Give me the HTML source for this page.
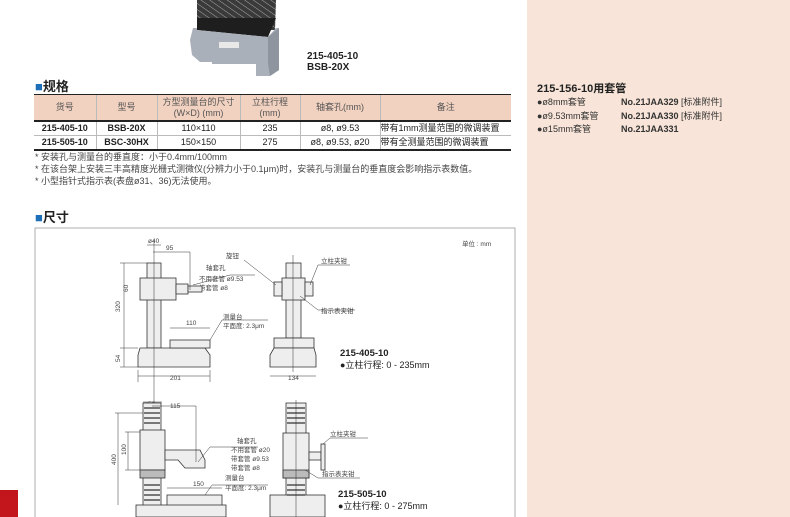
<!DOCTYPE html>
<html><head><meta charset="utf-8"><style>
html,body{margin:0;padding:0;width:790px;height:517px;overflow:hidden;background:#fff;font-family:"Liberation Sans","Noto Sans CJK SC",sans-serif;}
.abs{position:absolute;white-space:nowrap}
#right{position:absolute;left:527px;top:0;width:263px;height:517px;background:#f8e4d8}
table{border-collapse:collapse;position:absolute;left:34px;top:95px;font-size:9px;color:#222}
td{border-left:1px solid #bbb;text-align:center;padding:0;height:13px;line-height:13px}
td:first-child{border-left:none}
tr.h td{background:#f1d1bf;height:25px;line-height:11px;color:#555}
</style></head><body>
<div id="right">
 <div class="abs" style="left:10px;top:80px;font-size:11px;font-weight:bold;color:#222">215-156-10用套管</div>
 <div class="abs" style="left:10px;top:96px;font-size:9px;line-height:13.5px;color:#333">●ø8mm套管<br>●ø9.53mm套管<br>●ø15mm套管</div>
 <div class="abs" style="left:94px;top:96px;font-size:9px;line-height:13.5px;color:#333"><b>No.21JAA329</b> [标准附件]<br><b>No.21JAA330</b> [标准附件]<br><b>No.21JAA331</b></div>
</div>
<svg class="abs" style="left:0;top:0" width="527" height="80">
 <defs><pattern id="st" width="5" height="5" patternUnits="userSpaceOnUse" patternTransform="rotate(-55)"><rect width="5" height="5" fill="#3a3a3a"/><line x1="0" y1="0" x2="0" y2="5" stroke="#aaa" stroke-width="1"/></pattern></defs>
 <polygon points="197,0 276,0 275,30 197,30" fill="url(#st)"/>
 <polygon points="197,18 276,18 268,37 197,30" fill="#1e1e1e"/>
 <polygon points="193,28 197,28 197,30 268,37 276,28 279,28 279,70 270,76 256,76 256,64 212,64 212,62 200,62 192,55 190,40" fill="#aab0b9"/>
 <polygon points="268,37 279,28 279,70 270,76 268,64" fill="#8f959e"/>
 <rect x="219" y="42" width="20" height="6" fill="#e8e8e8"/>
</svg>
<div class="abs" style="left:307px;top:51px;font-size:10px;font-weight:bold;line-height:11px;color:#222">215-405-10<br>BSB-20X</div>
<div class="abs" style="left:35px;top:76px;font-size:13px;font-weight:bold;color:#222"><span style="color:#1d6fb8">■</span>规格</div>
<div class="abs" style="left:34px;top:94px;width:477px;height:2px;background:#222"></div>
<table style="width:477px">
<colgroup><col style="width:62px"><col style="width:61px"><col style="width:83px"><col style="width:60px"><col style="width:80px"><col style="width:131px"></colgroup>
<tr class="h"><td>货号</td><td>型号</td><td>方型测量台的尺寸<br>(W×D) (mm)</td><td>立柱行程<br>(mm)</td><td>轴套孔(mm)</td><td>备注</td></tr>
<tr style="border-top:2px solid #222"><td><b>215-405-10</b></td><td><b>BSB-20X</b></td><td>110×110</td><td>235</td><td>ø8, ø9.53</td><td style="text-align:left">带有1mm测量范围的微调装置</td></tr>
<tr style="border-top:1px solid #bbb;border-bottom:2px solid #222"><td><b>215-505-10</b></td><td><b>BSC-30HX</b></td><td>150×150</td><td>275</td><td>ø8, ø9.53, ø20</td><td style="text-align:left">带有全测量范围的微调装置</td></tr>
</table>
<div class="abs" style="left:35px;top:151px;font-size:9px;line-height:12px;color:#444">* 安装孔与测量台的垂直度：小于0.4mm/100mm<br>* 在该台架上安装三丰高精度光栅式测微仪(分辨力小于0.1μm)时，安装孔与测量台的垂直度会影响指示表数值。<br>* 小型指针式指示表(表盘ø31、36)无法使用。</div>
<div class="abs" style="left:35px;top:207px;font-size:13px;font-weight:bold;color:#222"><span style="color:#1d6fb8">■</span>尺寸</div>
<div class="abs" style="left:0;top:490px;width:18px;height:27px;background:#c3161c"></div>
<svg class="abs" style="left:0;top:0" width="527" height="517" font-size="6.5" fill="none" stroke="#333" stroke-width="0.8">
 <rect x="35" y="228" width="480" height="300" stroke="#999"/>
 <g fill="#444" stroke="none" font-family="Liberation Sans,Noto Sans CJK SC,sans-serif">
  <text x="462" y="246">单位 : mm</text>
  <text x="148" y="243">ø40</text><text x="166" y="250">95</text>
  <text x="206" y="270">轴套孔</text><text x="199" y="281">不用套管  ø9.53</text><text x="199" y="290">带套管  ø8</text>
  <text x="226" y="258">旋钮</text><text x="321" y="263">立柱夹钳</text><text x="321" y="313">指示表夹钳</text>
  <text x="223" y="319">测量台</text><text x="223" y="328">平面度: 2.3μm</text>
  <text x="186" y="325">110</text><text x="170" y="380">201</text><text x="288" y="380">134</text>
  <text x="144" y="406">ø50</text><text x="170" y="408">115</text>
  <text x="237" y="443">轴套孔</text><text x="231" y="452">不用套管  ø20</text><text x="231" y="461">带套管  ø9.53</text><text x="231" y="470">带套管  ø8</text>
  <text x="225" y="480">测量台</text><text x="225" y="490">平面度: 2.3μm</text><text x="193" y="486">150</text>
  <text x="330" y="436">立柱夹钳</text><text x="322" y="476">指示表夹钳</text>
  <text x="340" y="356" font-size="9.5" font-weight="bold" fill="#222">215-405-10</text>
  <text x="340" y="368" font-size="9" fill="#222">●立柱行程: 0 - 235mm</text>
  <text x="338" y="497" font-size="9.5" font-weight="bold" fill="#222">215-505-10</text>
  <text x="338" y="509" font-size="9" fill="#222">●立柱行程: 0 - 275mm</text>
  <text transform="translate(120,312) rotate(-90)">320</text><text transform="translate(120,362) rotate(-90)">54</text>
  <text transform="translate(128,292) rotate(-90)">60</text>
  <text transform="translate(116,465) rotate(-90)">400</text><text transform="translate(126,455) rotate(-90)">100</text>
 </g>
 <g fill="#eee">
  <rect x="147" y="263" width="14" height="85"/>
  <rect x="140" y="278" width="36" height="22"/>
  <rect x="176" y="284" width="12" height="10"/>
  <rect x="188" y="286" width="14" height="6"/>
  <path d="M140,348 L205,348 L210,355 L210,367 L138,367 L138,355 Z"/>
  <rect x="170" y="340" width="40" height="8"/>
  <rect x="286" y="263" width="15" height="75"/>
  <rect x="282" y="278" width="23" height="22"/>
  <rect x="274" y="282" width="8" height="14"/><rect x="305" y="282" width="8" height="14"/>
  <rect x="274" y="338" width="40" height="10"/>
  <path d="M274,348 L314,348 L316,355 L316,367 L270,367 L270,355 Z"/>
 </g>
 <g stroke-width="0.5">
  <line x1="120" y1="263" x2="147" y2="263"/><line x1="120" y1="348" x2="138" y2="348"/><line x1="120" y1="367" x2="138" y2="367"/>
  <line x1="124" y1="263" x2="124" y2="348"/><line x1="124" y1="348" x2="124" y2="367"/>
  <line x1="147" y1="245" x2="161" y2="245"/><line x1="153" y1="252" x2="190" y2="252"/><line x1="190" y1="252" x2="190" y2="290"/>
  <line x1="138" y1="370" x2="138" y2="382"/><line x1="210" y1="370" x2="210" y2="382"/><line x1="138" y1="376" x2="210" y2="376"/>
  <line x1="270" y1="376" x2="316" y2="376"/><line x1="170" y1="328" x2="210" y2="328"/>
  <line x1="193" y1="285" x2="230" y2="275"/><line x1="230" y1="275" x2="255" y2="275"/>
  <line x1="210" y1="340" x2="222" y2="320"/><line x1="222" y1="320" x2="268" y2="320"/>
  <line x1="276" y1="285" x2="244" y2="260"/><line x1="310" y1="285" x2="318" y2="265"/><line x1="318" y1="265" x2="350" y2="265"/>
  <line x1="300" y1="296" x2="318" y2="310"/><line x1="318" y1="310" x2="355" y2="310"/>
  <line x1="154" y1="240" x2="154" y2="440"/><line x1="293" y1="255" x2="293" y2="372"/>
 </g>
 <g fill="#eee">
  <rect x="143" y="403" width="18" height="110"/>
  <rect x="140" y="430" width="25" height="40"/>
  <rect x="140" y="470" width="25" height="8" fill="#bbb"/>
  <path d="M165,450 L200,450 L205,460 L205,468 L185,468 L178,460 L165,460 Z"/>
  <rect x="167" y="495" width="55" height="22"/>
  <rect x="136" y="505" width="90" height="12"/>
  <rect x="286" y="403" width="20" height="110"/>
  <rect x="283" y="433" width="26" height="45"/><rect x="283" y="470" width="26" height="8" fill="#bbb"/>
  <rect x="309" y="452" width="12" height="8"/><rect x="321" y="444" width="4" height="26"/>
  <rect x="270" y="495" width="55" height="22"/>
 </g>
 <g stroke-width="1.3">
  <path d="M144,408h16M144,413h16M144,418h16M144,423h16M144,485h16M144,490h16M144,495h16M144,500h16"/>
  <path d="M287,408h18M287,413h18M287,418h18M287,423h18M287,485h18M287,490h18M287,495h18"/>
 </g>
 <g stroke-width="0.5">
  <line x1="115" y1="413" x2="143" y2="413"/><line x1="118" y1="413" x2="118" y2="505"/>
  <line x1="125" y1="432" x2="140" y2="432"/><line x1="125" y1="470" x2="140" y2="470"/><line x1="128" y1="432" x2="128" y2="470"/>
  <line x1="143" y1="402" x2="162" y2="402"/><line x1="152" y1="406" x2="196" y2="406"/><line x1="196" y1="406" x2="196" y2="462"/>
  <line x1="167" y1="488" x2="222" y2="488"/><line x1="198" y1="462" x2="210" y2="447"/><line x1="210" y1="447" x2="258" y2="447"/>
  <line x1="205" y1="495" x2="212" y2="485"/><line x1="212" y1="485" x2="268" y2="485"/>
  <line x1="323" y1="444" x2="330" y2="438"/><line x1="330" y1="438" x2="368" y2="438"/>
  <line x1="305" y1="470" x2="318" y2="478"/><line x1="318" y1="478" x2="360" y2="478"/>
  <line x1="296" y1="400" x2="296" y2="517"/>
 </g>
</svg>
</body></html>
